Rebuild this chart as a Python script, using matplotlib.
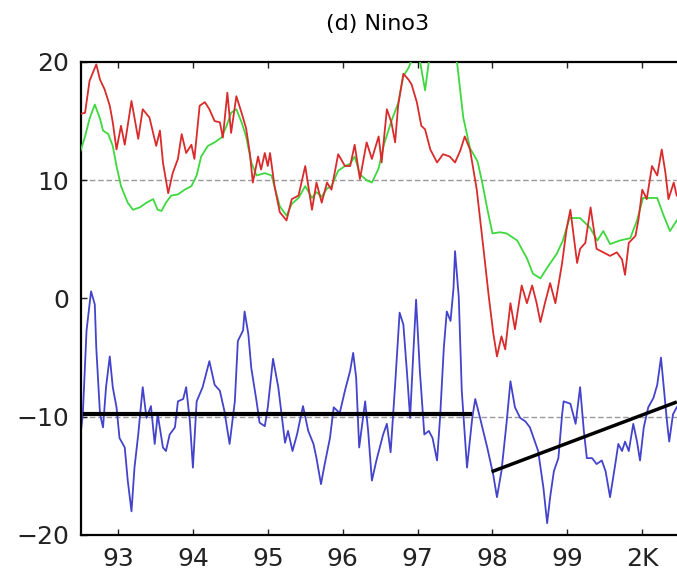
import matplotlib.pyplot as plt

# values (x in years, 92.5 = mid 1992)
red_x = [92.49, 92.56, 92.62, 92.71, 92.76, 92.82, 92.89, 92.93, 92.98, 93.04,
         93.09, 93.18, 93.27, 93.33, 93.42, 93.51, 93.56, 93.60, 93.67, 93.73,
         93.80, 93.85, 93.91, 93.98, 94.02, 94.09, 94.16, 94.22, 94.29, 94.36,
         94.40, 94.46, 94.51, 94.58, 94.65, 94.71, 94.76, 94.80, 94.87, 94.91,
         94.96, 95.00, 95.03, 95.09, 95.16, 95.25, 95.32, 95.41, 95.50, 95.59,
         95.65, 95.72, 95.79, 95.85, 95.94, 96.03, 96.10, 96.16, 96.23, 96.32,
         96.39, 96.48, 96.52, 96.59, 96.65, 96.70, 96.74, 96.81, 96.88, 96.92,
         96.99, 97.05, 97.10, 97.17, 97.26, 97.34, 97.43, 97.50, 97.57, 97.63,
         97.70, 97.79, 97.88, 97.95, 98.01, 98.06, 98.12, 98.17, 98.24, 98.30,
         98.39, 98.46, 98.53, 98.59, 98.64, 98.70, 98.77, 98.84, 98.93, 98.99,
         99.04, 99.13, 99.17, 99.24, 99.31, 99.39, 99.48, 99.57, 99.66, 99.73,
         99.77, 99.82, 99.91, 99.95, 100.00, 100.06, 100.13, 100.20, 100.26, 100.31,
         100.35, 100.42, 100.46]
red_y = [15.6, 15.7, 18.4, 19.8, 18.5, 17.7, 16.3, 14.9, 12.6, 14.6,
         13.0, 16.7, 13.5, 16.0, 15.3, 12.9, 14.2, 11.5, 8.9, 10.6,
         11.8, 13.9, 12.3, 13.0, 11.8, 16.3, 16.6, 16.0, 15.0, 14.9,
         13.6, 17.4, 14.0, 17.1, 15.7, 14.4, 12.3, 9.8, 12.0, 10.9,
         12.3, 11.2, 12.3, 9.5, 7.3, 6.6, 8.4, 8.7, 11.2, 7.5,
         9.8, 8.1, 9.8, 9.2, 12.2, 11.2, 11.2, 13.0, 10.1, 13.2,
         11.8, 13.7, 11.5, 16.0, 14.9, 13.2, 16.3, 19.0, 18.5, 18.1,
         16.6, 14.6, 14.3, 12.6, 11.5, 12.2, 12.0, 11.5, 12.5, 13.7,
         12.6, 9.2, 4.2, 0.2, -2.9, -4.9, -3.2, -4.3, -0.4, -2.6,
         1.1, -0.4, 1.1, -0.4, -2.0, -0.4, 1.3, -0.4, 3.0, 5.9,
         7.5, 3.0, 4.2, 4.7, 7.7, 4.2, 3.9, 3.6, 3.9, 3.3,
         2.0, 4.7, 5.3, 6.7, 9.2, 8.4, 11.2, 10.4, 12.6, 10.6,
         8.4, 9.8, 8.7]

green_x = [92.49, 92.56, 92.62, 92.69, 92.76, 92.80, 92.87, 92.93, 92.98, 93.04,
           93.13, 93.20, 93.29, 93.38, 93.47, 93.53, 93.58, 93.64, 93.71, 93.80,
           93.89, 93.98, 94.05, 94.11, 94.20, 94.29, 94.38, 94.45, 94.51, 94.58,
           94.65, 94.71, 94.78, 94.85, 94.96, 95.05, 95.16, 95.25, 95.32, 95.41,
           95.50, 95.59, 95.65, 95.72, 95.79, 95.85, 95.94, 96.03, 96.10, 96.16,
           96.23, 96.32, 96.39, 96.48, 96.55, 96.65, 96.74, 96.81, 96.88, 96.94,
           97.02, 97.10, 97.16, 97.25, 97.38, 97.50, 97.53, 97.61, 97.70, 97.80,
           97.86, 97.93, 98.00, 98.10, 98.19, 98.33, 98.46, 98.54, 98.64, 98.73,
           98.86, 98.94, 99.03, 99.17, 99.30, 99.40, 99.48, 99.57, 99.70, 99.84,
           99.93, 100.01, 100.10, 100.20, 100.28, 100.37, 100.46]
green_y = [12.3, 13.7, 15.2, 16.4, 15.2, 14.2, 13.9, 12.9, 11.2, 9.5,
           8.1, 7.5, 7.7, 8.1, 8.4, 7.5, 7.4, 8.1, 8.7, 8.8,
           9.2, 9.5, 10.4, 12.0, 12.9, 13.2, 13.6, 14.6, 15.7, 16.0,
           14.9, 13.7, 11.5, 10.4, 10.6, 10.4, 7.8, 7.0, 8.0, 8.5,
           9.5, 8.5, 9.0, 8.6, 9.3, 9.5, 10.8, 11.2, 11.4, 12.0,
           10.5, 10.0, 9.8, 11.0, 13.0, 15.0, 16.5, 18.8, 19.5, 20.5,
           20.5, 17.6, 20.5, 23.0, 23.0, 20.5, 19.8, 15.3, 12.7, 11.6,
           9.9, 7.6, 5.5, 5.6, 5.5, 4.9, 3.4, 2.1, 1.7, 2.6,
           3.8, 4.9, 6.8, 6.8, 6.0, 4.9, 5.7, 4.6, 4.9, 5.1,
           6.6, 8.5, 8.5, 8.5, 7.1, 5.7, 6.6]

blue_x = [92.49, 92.53, 92.58, 92.64, 92.69, 92.71, 92.76, 92.80, 92.84, 92.89,
          92.93, 92.98, 93.02, 93.09, 93.13, 93.18, 93.22, 93.27, 93.33, 93.38,
          93.44, 93.49, 93.53, 93.60, 93.64, 93.69, 93.76, 93.80, 93.87, 93.91,
          93.96, 94.00, 94.05, 94.13, 94.22, 94.29, 94.36, 94.42, 94.49, 94.56,
          94.60, 94.67, 94.69, 94.74, 94.78, 94.85, 94.89, 94.96, 95.00, 95.07,
          95.14, 95.19, 95.23, 95.27, 95.33, 95.39, 95.47, 95.54, 95.61, 95.65,
          95.71, 95.76, 95.83, 95.88, 95.96, 96.03, 96.10, 96.14, 96.18, 96.22,
          96.30, 96.34, 96.39, 96.45, 96.54, 96.59, 96.64, 96.70, 96.76, 96.81,
          96.86, 96.90, 96.94, 96.98, 97.03, 97.09, 97.15, 97.20, 97.26, 97.30,
          97.35, 97.39, 97.44, 97.48, 97.50, 97.55, 97.59, 97.66, 97.73, 97.77,
          97.83, 97.93, 98.01, 98.06, 98.12, 98.19, 98.24, 98.30, 98.37, 98.44,
          98.50, 98.55, 98.61, 98.68, 98.73, 98.77, 98.82, 98.88, 98.93, 98.95,
          99.04, 99.11, 99.17, 99.22, 99.26, 99.33, 99.39, 99.46, 99.51, 99.57,
          99.64, 99.68, 99.73, 99.77, 99.82, 99.88, 99.93, 99.97, 100.02, 100.08,
          100.15, 100.20, 100.25, 100.28, 100.33, 100.36, 100.41, 100.46]
blue_y = [-12.1, -9.8, -2.7, 0.6, -0.5, -4.2, -9.8, -10.9, -7.5, -4.9,
          -7.5, -9.2, -11.8, -12.6, -15.4, -18.0, -14.3, -11.5, -7.5, -10.1,
          -9.1, -12.3, -9.8, -12.6, -12.9, -11.5, -10.9, -8.7, -8.5, -7.5,
          -10.4, -14.3, -8.7, -7.5, -5.3, -7.3, -7.8, -9.5, -12.3, -8.7,
          -3.6, -2.7, -1.1, -3.0, -5.9, -8.7, -10.5, -10.8, -9.2, -5.1,
          -7.5, -10.1, -12.2, -11.2, -12.9, -11.5, -9.1, -11.2, -12.3, -13.5,
          -15.7, -14.0, -11.8, -9.2, -9.7, -7.8, -6.1, -4.6, -6.7, -12.6,
          -8.7, -11.2, -15.4, -13.7, -11.5, -10.6, -13.0, -7.3, -1.2, -2.2,
          -6.4, -10.1, -5.0, -0.1, -6.1, -11.5, -11.2, -11.8, -13.7, -10.1,
          -4.2, -1.1, -1.9, 0.9, 4.0, 0.1, -7.8, -14.3, -10.1, -8.5,
          -10.0, -12.6, -14.9, -16.8, -14.6, -10.4, -7.0, -9.2, -10.1, -10.4,
          -10.9, -11.8, -12.9, -16.0, -19.0, -16.8, -14.6, -13.5, -9.8, -8.7,
          -8.9, -10.6, -7.5, -11.2, -13.5, -13.5, -14.0, -13.7, -14.6, -16.8,
          -14.0, -12.3, -12.9, -12.1, -12.9, -10.6, -12.1, -13.7, -10.9, -9.2,
          -8.4, -7.3, -5.0, -7.0, -10.4, -12.1, -9.8, -9.2]

# black trend segments on the blue curve
trend1_x = [92.56, 97.70]
trend1_y = [-9.8, -9.8]
trend2_x = [98.01, 100.44]
trend2_y = [-14.6, -8.8]

ref_levels = [10, -10]
year_ticks = [93, 94, 95, 96, 97, 98, 99, 100]
year_labels = ['93', '94', '95', '96', '97', '98', '99', '2K']
y_ticks = [-20, -10, 0, 10, 20]

plt.rcParams['font.family'] = ['DejaVu Sans']
fig = plt.figure(figsize=(6.77, 5.79), dpi=100)
ax = fig.add_axes([0.119, 0.076, 0.885, 0.817])

for lev in ref_levels:
    ax.axhline(lev, color='#999999', lw=1.0, ls=(0, (4, 2)), zorder=1)

ax.plot(blue_x, blue_y, color='#4343cc', lw=1.3, zorder=2)
ax.plot(green_x, green_y, color='#3ed83e', lw=1.3, zorder=3)
ax.plot(red_x, red_y, color='#d92b2b', lw=1.3, zorder=4)
ax.plot(trend1_x, trend1_y, color='black', lw=3.0, zorder=5)
ax.plot(trend2_x, trend2_y, color='black', lw=2.5, zorder=5)

ax.set_xlim(92.5, 100.5)
ax.set_ylim(-20, 20)
ax.set_xticks(year_ticks)
ax.set_xticklabels(year_labels)
ax.set_yticks(y_ticks)
ax.set_yticklabels([str(v).replace('-', '\u2212') for v in y_ticks])
ax.tick_params(axis='x', direction='in', top=True, length=4, width=1,
               labelsize=18, pad=9, colors='#222222')
ax.tick_params(axis='y', direction='in', length=4, width=1,
               labelsize=18, pad=8, colors='#222222')
for s in ax.spines.values():
    s.set_linewidth(1.6)

fig.text(0.558, 0.959, '(d) Nino3', ha='center', va='center', fontsize=16)

fig.savefig('out.png', dpi=100)
